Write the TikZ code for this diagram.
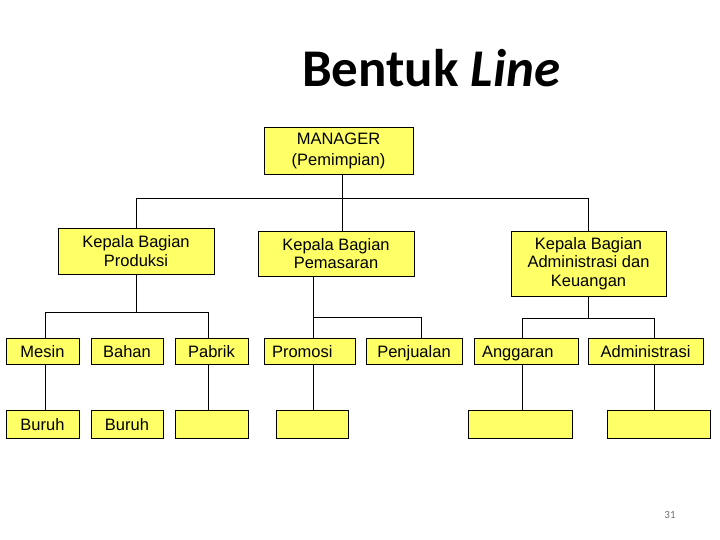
\documentclass[tikz,border=0pt]{standalone}
\usepackage{fontspec}
\setmainfont{Liberation Sans}
\newfontfamily\judulfont{Carlito}
\definecolor{kuning}{RGB}{255,255,102}
\tikzset{
  kotak/.style={draw=black,fill=kuning,line width=0.9pt,inner sep=0pt,align=center,
    font=\fontsize{16.5}{18.5}\selectfont},
  kotakkecil/.style={kotak,minimum height=26,text height=12pt,text depth=0pt},
  garis/.style={line width=0.9pt}
}
\begin{document}
\begin{tikzpicture}[x=1pt,y=-1pt]
    \useasboundingbox[fill=white] (0,0) rectangle (720,540);
    % judul
    \node[anchor=base west,inner sep=0pt,font=\judulfont\bfseries\fontsize{53}{55}\selectfont] (judul)
      at (302,87) {Bentuk \textit{Line}};
    % kotak
    \node[kotak,minimum width=149,minimum height=47,font=\fontsize{16.5}{21}\selectfont] (manager)
      at (338.5,150.5) {MANAGER\\(Pemimpian)};
    \node[kotak,minimum width=156,minimum height=46] (produksi) at (136,251) {Kepala Bagian\\Produksi};
    \node[kotak,minimum width=156,minimum height=45] (pemasaran) at (336,253.5) {Kepala Bagian\\Pemasaran};
    \node[kotak,minimum width=155,minimum height=65] (admin) at (588.5,263.5) {Kepala Bagian\\Administrasi dan\\Keuangan};
    \node[kotakkecil,minimum width=73] (mesin) at (42.5,351) {Mesin};
    \node[kotakkecil,minimum width=72] (bahan) at (127,351) {Bahan};
    \node[kotakkecil,minimum width=73] (pabrik) at (211.5,351) {Pabrik};
    \node[kotakkecil,minimum width=91,text width=75,align=left] (promosi) at (309.5,351) {Promosi};
    \node[kotakkecil,minimum width=96] (penjualan) at (414,351) {Penjualan};
    \node[kotakkecil,minimum width=104,text width=88,align=left] (anggaran) at (526,351) {Anggaran};
    \node[kotakkecil,minimum width=115] (administrasi) at (645.5,351) {Administrasi};
    \node[kotakkecil,minimum width=73,minimum height=28] (buruhA) at (42.5,424) {Buruh};
    \node[kotakkecil,minimum width=72,minimum height=28] (buruhB) at (127,424) {Buruh};
    \node[kotak,minimum width=73,minimum height=28] (kosongC) at (211.5,424) {};
    \node[kotak,minimum width=72,minimum height=28] (kosongD) at (312,424) {};
    \node[kotak,minimum width=104,minimum height=28] (kosongE) at (520,424) {};
    \node[kotak,minimum width=103,minimum height=28] (kosongF) at (658.5,424) {};
    \node[font=\judulfont\fontsize{11}{12}\selectfont,text=black!55] (halaman) at (670,515) {31};
    % garis
    \draw[garis] ([xshift=3.5pt]manager.south) -- ++(0,24) coordinate (jA);
    \draw[garis] (produksi.north) |- (jA) -| (admin.north);
    \draw[garis] (jA) -- ([xshift=6pt]pemasaran.north);
    \draw[garis] (produksi.south) -- ++(0,38) coordinate (jB);
    \draw[garis] ([xshift=2.5pt]mesin.north) |- (jB) -| ([xshift=-3.5pt]pabrik.north);
    \draw[garis] ([xshift=-23pt]pemasaran.south) -- ([xshift=3.5pt]promosi.north);
    \draw[garis] ([xshift=3.5pt]promosi.north) ++(0,-20) -| ([xshift=7pt]penjualan.north);
    \draw[garis] (admin.south) -- ++(0,22) coordinate (jC);
    \draw[garis] ([xshift=-4pt]anggaran.north) |- (jC) -| ([xshift=8.5pt]administrasi.north);
    \draw[garis] ([xshift=2.5pt]mesin.south) -- ([xshift=2.5pt]buruhA.north);
    \draw[garis] ([xshift=-3.5pt]pabrik.south) -- ([xshift=-3.5pt]kosongC.north);
    \draw[garis] ([xshift=3.5pt]promosi.south) -- ([xshift=1pt]kosongD.north);
    \draw[garis] ([xshift=-4pt]anggaran.south) -- ([xshift=2pt]kosongE.north);
    \draw[garis] ([xshift=8.5pt]administrasi.south) -- ([xshift=-4.5pt]kosongF.north);
\end{tikzpicture}
\end{document}
